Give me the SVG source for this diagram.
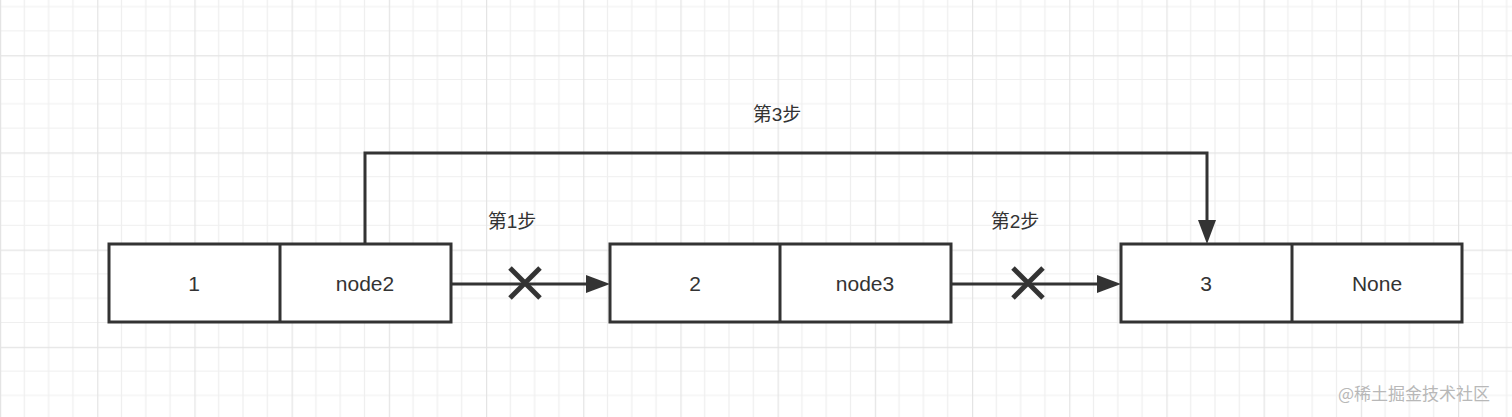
<svg xmlns="http://www.w3.org/2000/svg" width="1512" height="417" viewBox="0 0 1512 417">
<style>
.box{fill:#ffffff;stroke:#333333;stroke-width:3}
.div{stroke:#333333;stroke-width:3}
.t{font-family:"Liberation Sans",Arial,sans-serif;font-size:21px;fill:#333333;text-anchor:middle}
.lbl{font-family:"Liberation Sans","Noto Sans CJK SC",sans-serif;font-size:19px;fill:#333333;text-anchor:middle}
.wm{font-family:"Noto Sans CJK SC",sans-serif;font-size:17px;fill:#b8b8b8}
.edge{fill:none;stroke:#333333;stroke-width:3}
.x{stroke:#333333;stroke-width:5}
</style>
<defs>
<pattern id="grid" patternUnits="userSpaceOnUse" x="0" y="55.2" width="97.2" height="97.2">
<rect width="97.2" height="97.2" fill="#ffffff"/>
<g stroke="#efefef" stroke-width="1.2">
<line x1="24.3" y1="0" x2="24.3" y2="97.2"/>
<line x1="48.6" y1="0" x2="48.6" y2="97.2"/>
<line x1="72.9" y1="0" x2="72.9" y2="97.2"/>
<line x1="0" y1="24.3" x2="97.2" y2="24.3"/>
<line x1="0" y1="48.6" x2="97.2" y2="48.6"/>
<line x1="0" y1="72.9" x2="97.2" y2="72.9"/>
</g>
<g stroke="#e4e4e4" stroke-width="1.4">
<line x1="0.5" y1="0" x2="0.5" y2="97.2"/>
<line x1="0" y1="0.5" x2="97.2" y2="0.5"/>
</g>
</pattern>
</defs>
<rect width="1512" height="417" fill="url(#grid)"/>

<g id="connectors">
<line class="edge" x1="451" y1="284" x2="592" y2="284"/>
<polygon points="610,284 586,275 586,293" fill="#333333"/>
<line class="edge" x1="951" y1="284" x2="1103" y2="284"/>
<polygon points="1121,284 1097,275 1097,293" fill="#333333"/>
<polyline class="edge" points="365,244 365,153 1207,153 1207,226"/>
<polygon points="1207,244 1198,220 1216,220" fill="#333333"/>
<g id="cross1"><line class="x" x1="510" y1="268" x2="540" y2="298"/><line class="x" x1="540" y1="268" x2="510" y2="298"/></g>
<g id="cross2"><line class="x" x1="1013" y1="268" x2="1043" y2="298"/><line class="x" x1="1043" y1="268" x2="1013" y2="298"/></g>
<text class="lbl" x="512" y="228">第1步</text>
<text class="lbl" x="1015" y="228">第2步</text>
<text class="lbl" x="777" y="121">第3步</text>
</g>

<g id="node1">
<rect class="box" x="109" y="244" width="342" height="78"/>
<line class="div" x1="280" y1="244" x2="280" y2="322"/>
<text class="t" x="194" y="291">1</text>
<text class="t" x="365" y="291">node2</text>
</g>
<g id="node2">
<rect class="box" x="610" y="244" width="341" height="78"/>
<line class="div" x1="780" y1="244" x2="780" y2="322"/>
<text class="t" x="695" y="291">2</text>
<text class="t" x="865" y="291">node3</text>
</g>
<g id="node3">
<rect class="box" x="1121" y="244" width="341" height="78"/>
<line class="div" x1="1292" y1="244" x2="1292" y2="322"/>
<text class="t" x="1206" y="291">3</text>
<text class="t" x="1377" y="291">None</text>
</g>
<text class="wm" x="1338" y="400">@稀土掘金技术社区</text>
</svg>
